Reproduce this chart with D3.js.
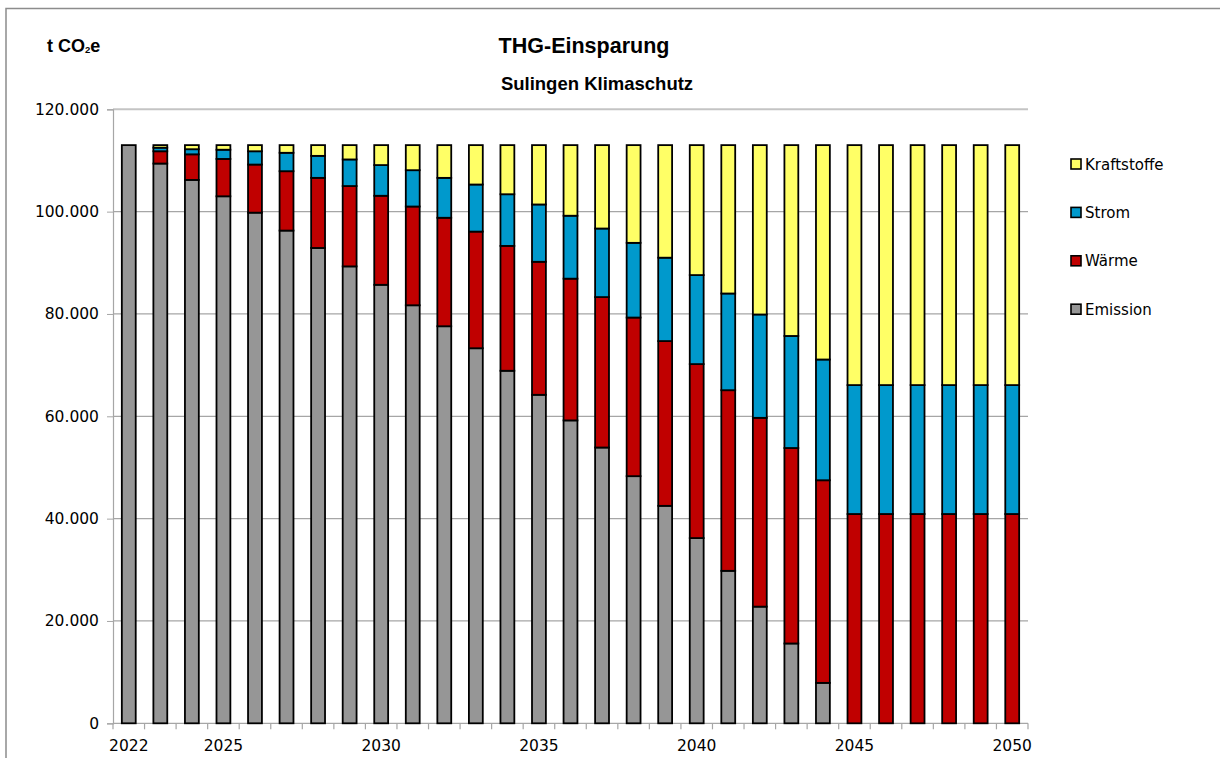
<!DOCTYPE html>
<html><head><meta charset="utf-8">
<script src="https://cdn.jsdelivr.net/npm/d3@7"></script>
<style>body{margin:0;background:#fff}svg{display:block}</style>
</head><body>
<svg id="c" width="1220" height="758"></svg>
<script>
const years = d3.range(2022, 2051);
const yearLabels = [2022, 2025, 2030, 2035, 2040, 2045, 2050];
const emission    = [113000,109400,106200,103000,99800,96300,92900,89300,85700,81700,77600,73300,68900,64200,59200,53900,48300,42500,36200,29800,22800,15600,7900,0,0,0,0,0,0];
const waerme      = [0,2400,5000,7300,9400,11600,13700,15700,17400,19300,21200,22800,24400,26000,27700,29400,31000,32200,34000,35300,36900,38200,39600,40900,40900,40900,40900,40900,40900];
const strom       = [0,700,1000,1800,2600,3600,4300,5200,6000,7100,7800,9200,10100,11200,12300,13400,14600,16300,17400,18900,20200,21900,23600,25200,25200,25200,25200,25200,25200];
const kraftstoffe = [0,500,800,900,1200,1500,2100,2800,3900,4900,6400,7700,9600,11600,13800,16300,19100,22000,25400,29000,33100,37300,41900,46900,46900,46900,46900,46900,46900];
const seriesNames = ["Emission", "Wärme", "Strom", "Kraftstoffe"];
const colors = {"Emission":"#969696","Wärme":"#c00000","Strom":"#0099cc","Kraftstoffe":"#ffff66"};
const yTicks = [0,20000,40000,60000,80000,100000,120000];

const rows = years.map((y,i)=>({year:y, "Emission":emission[i], "Wärme":waerme[i], "Strom":strom[i], "Kraftstoffe":kraftstoffe[i]}));
const stacked = d3.stack().keys(seriesNames)(rows);

const svg = d3.select("#c");
const L=113, R=1028, T=109.3, B=723.3;
const x = d3.scaleBand().domain(years).range([L,R]).paddingInner(0.56).paddingOuter(0.28);
const y = d3.scaleLinear().domain([0,120000]).range([B,T]);
const fmt = d => d===0 ? "0" : d3.format(",")(d).replace(/,/g,".");

// outer border
svg.append("path").attr("d","M6,758 L6,8.5 L1220,8.5").attr("fill","none").attr("stroke","#8c8c8c").attr("stroke-width",1.5);

// grid
svg.append("g").selectAll("line").data(yTicks.filter(t=>t>0 && t<120000)).join("line")
  .attr("x1",L).attr("x2",R).attr("y1",d=>y(d)).attr("y2",d=>y(d))
  .attr("stroke","#a6a6a6").attr("stroke-width",1.2);
svg.append("line").attr("x1",L).attr("x2",R).attr("y1",y(120000)).attr("y2",y(120000))
  .attr("stroke","#c4c4c4").attr("stroke-width",2);

// y axis
const yAxis = svg.append("g").attr("transform",`translate(${L},0)`)
  .call(d3.axisLeft(y).tickValues(yTicks).tickFormat(fmt).tickSize(6).tickPadding(8));
yAxis.select(".domain").attr("stroke","#a6a6a6").attr("stroke-width",1.2);
yAxis.selectAll(".tick line").attr("stroke","#a6a6a6");
yAxis.selectAll("text").attr("font-family","DejaVu Sans").attr("font-size",15.5).attr("fill","#000");

// x axis
const xg = svg.append("g").attr("transform",`translate(0,${B})`);
xg.append("line").attr("x1",L).attr("x2",R).attr("y1",0).attr("y2",0).attr("stroke","#a6a6a6").attr("stroke-width",1.2);
xg.selectAll("line.t").data(years.concat([null])).join("line").attr("class","t")
  .attr("x1",(d,i)=>L + i*x.step()).attr("x2",(d,i)=>L + i*x.step()).attr("y1",0).attr("y2",6)
  .attr("stroke","#a6a6a6").attr("stroke-width",1.2);
xg.selectAll("text").data(yearLabels).join("text")
  .attr("x",d=>x(d)+x.bandwidth()/2).attr("y",28).attr("text-anchor","middle")
  .attr("font-family","DejaVu Sans").attr("font-size",15.5).text(d=>d);

// bars
svg.append("g").selectAll("g").data(stacked).join("g").attr("fill",d=>colors[d.key])
  .selectAll("rect").data(d=>d).join("rect")
  .attr("x",d=>x(d.data.year)).attr("width",x.bandwidth())
  .attr("y",d=>y(d[1])).attr("height",d=>Math.max(0,y(d[0])-y(d[1])))
  .attr("stroke","#000").attr("stroke-width",1.8);

// titles
svg.append("text").attr("x",584).attr("y",53).attr("text-anchor","middle")
  .attr("font-family","Liberation Sans").attr("font-weight","bold").attr("font-size",21.5).text("THG-Einsparung");
svg.append("text").attr("x",597).attr("y",90).attr("text-anchor","middle")
  .attr("font-family","Liberation Sans").attr("font-weight","bold").attr("font-size",18.5).text("Sulingen Klimaschutz");
const unit = svg.append("text").attr("x",47).attr("y",52)
  .attr("font-family","Liberation Sans").attr("font-weight","bold").attr("font-size",18);
unit.append("tspan").text("t CO");
unit.append("tspan").attr("font-size",9.5).attr("dy",1).text("2");
unit.append("tspan").attr("dy",-1).text("e");

// legend
const legendOrder = ["Kraftstoffe","Strom","Wärme","Emission"];
const lg = svg.append("g").selectAll("g").data(legendOrder).join("g")
  .attr("transform",(d,i)=>`translate(1071,${164 + i*48.4})`);
lg.append("rect").attr("x",0).attr("y",-5).attr("width",10).attr("height",10)
  .attr("fill",d=>colors[d]).attr("stroke","#000").attr("stroke-width",1.6);
lg.append("text").attr("x",14).attr("y",5.5).attr("font-family","DejaVu Sans").attr("font-size",15).text(d=>d);
</script>
</body></html>
